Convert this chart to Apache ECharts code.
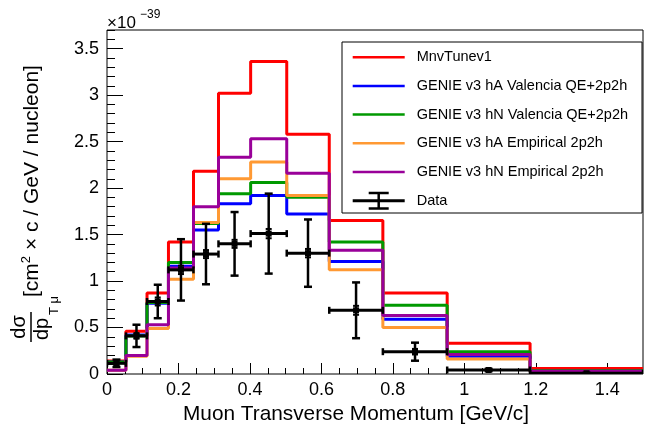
<!DOCTYPE html>
<html>
<head>
<meta charset="utf-8">
<script src="https://cdn.jsdelivr.net/npm/echarts@6/dist/echarts.min.js"></script>
<style>
  html, body { margin: 0; padding: 0; background: #ffffff; }
  #chart { width: 651px; height: 431px; }
</style>
</head>
<body>
<div id="chart"></div>
<script>
// Bin edges of the muon transverse momentum histogram [GeV/c]
const binEdges = [0, 0.053, 0.112, 0.172, 0.242, 0.312, 0.402, 0.503, 0.622, 0.772, 0.952, 1.184, 1.5];

// Cross sections per bin, in units of 1e-39 cm^2 c / GeV / nucleon
const mnvTune     = [0.14, 0.46, 0.87, 1.42, 2.18, 3.02, 3.36, 2.58, 1.65, 0.87, 0.33, 0.06];
const hAValencia  = [0.13, 0.42, 0.76, 1.16, 1.55, 1.83, 1.92, 1.72, 1.21, 0.59, 0.19, 0.03];
const hNValencia  = [0.13, 0.41, 0.77, 1.20, 1.62, 1.94, 2.06, 1.90, 1.42, 0.74, 0.24, 0.035];
const hAEmpirical = [0.04, 0.19, 0.49, 1.02, 1.63, 2.10, 2.28, 1.92, 1.12, 0.50, 0.16, 0.025];
const hNEmpirical = [0.04, 0.20, 0.53, 1.14, 1.80, 2.33, 2.53, 2.16, 1.33, 0.63, 0.21, 0.03];

// Measured data with total and statistical uncertainties
const dataValues   = [0.115, 0.41, 0.78, 1.12, 1.29, 1.40, 1.51, 1.30, 0.685, 0.24, 0.043, 0.008];
const dataTotalErr = [0.04, 0.12, 0.18, 0.33, 0.325, 0.342, 0.43, 0.362, 0.30, 0.097, 0.012, 0.005];
const dataStatErr  = [0.02, 0.03, 0.043, 0.045, 0.043, 0.043, 0.05, 0.045, 0.048, 0.03, 0.008, 0.004];

// Axis ticks
const xMajorTicks = [0, 0.2, 0.4, 0.6, 0.8, 1, 1.2, 1.4];
const xMinorTicks = [0, 0.05, 0.1, 0.15, 0.2, 0.25, 0.3, 0.35, 0.4, 0.45, 0.5, 0.55, 0.6, 0.65, 0.7, 0.75,
                     0.8, 0.85, 0.9, 0.95, 1, 1.05, 1.1, 1.15, 1.2, 1.25, 1.3, 1.35, 1.4, 1.45];
const yMajorTicks = [0, 0.5, 1, 1.5, 2, 2.5, 3, 3.5];
const yMinorTicks = [0, 0.1, 0.2, 0.3, 0.4, 0.5, 0.6, 0.7, 0.8, 0.9, 1, 1.1, 1.2, 1.3, 1.4, 1.5, 1.6, 1.7,
                     1.8, 1.9, 2, 2.1, 2.2, 2.3, 2.4, 2.5, 2.6, 2.7, 2.8, 2.9, 3, 3.1, 3.2, 3.3, 3.4, 3.5, 3.6, 3.7];

const modelNames = ['MnvTunev1', 'GENIE v3 hA Valencia QE+2p2h', 'GENIE v3 hN Valencia QE+2p2h',
                    'GENIE v3 hA Empirical 2p2h', 'GENIE v3 hN Empirical 2p2h'];
const modelValues = [mnvTune, hAValencia, hNValencia, hAEmpirical, hNEmpirical];
const modelColors = ['#ff0000', '#0000ff', '#009900', '#ff9933', '#990099'];
const dataName = 'Data';

const FONT = 'Liberation Sans, Arial, Helvetica, sans-serif';

// Legend glyphs: a plain line for the models, an error cross for the data
const LINE_ICON = 'path://M0,0M52,18M0,7.75H52V10.25H0Z';
const DATA_ICON = 'path://M0,7.5H52V10.5H0Z M24.75,0H27.25V18H24.75Z M16,0H36V2.5H16Z M16,15.5H36V18H16Z';

// Step outline for a histogram: left edge of every bin, plus the last right edge
function histPoints(values) {
  const pts = values.map((v, i) => [binEdges[i], v]);
  pts.push([binEdges[binEdges.length - 1], values[values.length - 1]]);
  return pts;
}

const dataPoints = dataValues.map((v, i) => [
  (binEdges[i] + binEdges[i + 1]) / 2, v, binEdges[i], binEdges[i + 1], dataTotalErr[i], dataStatErr[i]
]);

function renderErrorPoint(params, api) {
  const xc = api.value(0), y = api.value(1), xl = api.value(2), xh = api.value(3);
  const te = api.value(4), se = api.value(5);
  const c = api.coord([xc, y]);
  const l = api.coord([xl, y]);
  const h = api.coord([xh, y]);
  const t = api.coord([xc, y + te]);
  const b = api.coord([xc, Math.max(y - te, 0)]);
  const st = api.coord([xc, y + se]);
  const sb = api.coord([xc, y - se]);
  const s = (w) => ({ stroke: '#000', lineWidth: w, fill: null });
  const seg = (x1, y1, x2, y2, w) => ({ type: 'line', shape: { x1, y1, x2, y2 }, style: s(w) });
  return {
    type: 'group',
    children: [
      seg(l[0], l[1], h[0], h[1], 3),
      seg(l[0], l[1] - 3.5, l[0], l[1] + 3.5, 2.5),
      seg(h[0], h[1] - 3.5, h[0], h[1] + 3.5, 2.5),
      seg(t[0], t[1], b[0], b[1], 2.5),
      seg(t[0] - 4, t[1], t[0] + 4, t[1], 2.5),
      seg(b[0] - 4, b[1], b[0] + 4, b[1], 2.5),
      seg(st[0] - 3, st[1], st[0] + 3, st[1], 2),
      seg(sb[0] - 3, sb[1], sb[0] + 3, sb[1], 2),
      { type: 'rect', shape: { x: c[0] - 3, y: c[1] - 3, width: 6, height: 6 }, style: { fill: '#000' } }
    ]
  };
}

const lineSeries = modelNames.map((name, i) => ({
  name: name,
  type: 'line',
  step: 'end',
  xAxisIndex: 0,
  yAxisIndex: 0,
  data: histPoints(modelValues[i]),
  symbol: 'none',
  showSymbol: false,
  color: modelColors[i],
  lineStyle: { color: modelColors[i], width: 3 },
  emphasis: { disabled: true },
  z: 2 + i
}));

const tickLabel = { fontFamily: FONT, fontSize: 18, color: '#000' };

const option = {
  animation: false,
  grid: {
    left: 107, top: 30, width: 536, height: 344,
    show: true, borderColor: '#000', borderWidth: 1, backgroundColor: 'transparent'
  },
  xAxis: [
    {
      type: 'value', min: 0, max: 1.5, position: 'bottom',
      axisLine: { show: false },
      splitLine: { show: false },
      axisTick: { inside: true, length: 11, customValues: xMajorTicks, lineStyle: { color: '#000', width: 1 } },
      axisLabel: Object.assign({ customValues: xMajorTicks, margin: 7 }, tickLabel)
    },
    {
      type: 'value', min: 0, max: 1.5, position: 'bottom',
      axisLine: { show: false },
      splitLine: { show: false },
      axisTick: { inside: true, length: 6, customValues: xMinorTicks, lineStyle: { color: '#000', width: 1 } },
      axisLabel: { show: false }
    }
  ],
  yAxis: [
    {
      type: 'value', min: 0, max: 3.7, position: 'left',
      axisLine: { show: false },
      splitLine: { show: false },
      axisTick: { inside: true, length: 16, customValues: yMajorTicks, lineStyle: { color: '#000', width: 1 } },
      axisLabel: Object.assign({ customValues: yMajorTicks, margin: 8 }, tickLabel)
    },
    {
      type: 'value', min: 0, max: 3.7, position: 'left',
      axisLine: { show: false },
      splitLine: { show: false },
      axisTick: { inside: true, length: 8, customValues: yMinorTicks, lineStyle: { color: '#000', width: 1 } },
      axisLabel: { show: false }
    }
  ],
  legend: {
    orient: 'vertical',
    left: 352.7, top: 48.2,
    padding: 0,
    itemWidth: 52, itemHeight: 18, itemGap: 10.7,
    selectedMode: false,
    textStyle: { fontFamily: FONT, fontSize: 14.5, color: '#000', padding: [0, 0, 0, 7] },
    data: modelNames.map((name, i) => ({ name: name, icon: LINE_ICON, itemStyle: { color: modelColors[i] } }))
      .concat([{ name: dataName, icon: DATA_ICON, itemStyle: { color: '#000' } }])
  },
  graphic: [
    // legend frame
    { type: 'rect', shape: { x: 342, y: 42, width: 300, height: 171 },
      style: { fill: null, stroke: '#000', lineWidth: 1 }, z: 0 },
    // exponent of the y scale
    { type: 'text', x: 107, y: 23,
      style: { text: '\u00d710', font: '17px ' + FONT, fill: '#000', verticalAlign: 'middle' } },
    { type: 'text', x: 140, y: 14.5,
      style: { text: '\u221239', font: '12px ' + FONT, fill: '#000', verticalAlign: 'middle' } },
    // x axis title
    { type: 'text', x: 183, y: 414,
      style: { text: 'Muon Transverse Momentum [GeV/c]', font: '20.8px ' + FONT, fill: '#000', verticalAlign: 'middle' } },
    // y axis title, rotated to read upward
    { type: 'group', x: 31, y: 342, rotation: Math.PI / 2,
      children: [
        { type: 'line', shape: { x1: 0, y1: 0, x2: 30, y2: 0 }, style: { stroke: '#000', lineWidth: 1.5 } },
        { type: 'text', x: 15, y: -2,
          style: { text: 'd\u03c3', font: '20px ' + FONT, fill: '#000', align: 'center', verticalAlign: 'bottom' } },
        { type: 'text', x: 2, y: 1,
          style: { text: 'dp', font: '20px ' + FONT, fill: '#000', align: 'left', verticalAlign: 'top' } },
        { type: 'text', x: 27, y: 17,
          style: { text: 'T \u03bc', font: '13px ' + FONT, fill: '#000', align: 'left', verticalAlign: 'top' } },
        { type: 'text', x: 45, y: 1,
          style: {
            text: '[cm{sup|2} \u00d7 c / GeV / nucleon]',
            font: '21px ' + FONT, fill: '#000', align: 'left', verticalAlign: 'middle',
            lineHeight: 24,
            rich: { sup: { fontSize: 13, fontFamily: FONT, verticalAlign: 'top', lineHeight: 24 } }
          } }
      ] }
  ],
  series: lineSeries.concat([{
    name: dataName,
    type: 'custom',
    xAxisIndex: 0,
    yAxisIndex: 0,
    clip: true,
    data: dataPoints,
    encode: { x: 0, y: 1 },
    renderItem: renderErrorPoint,
    color: '#000',
    z: 10
  }])
};

const chart = echarts.init(document.getElementById('chart'), null, { renderer: 'canvas' });
chart.setOption(option);
</script>
</body>
</html>
